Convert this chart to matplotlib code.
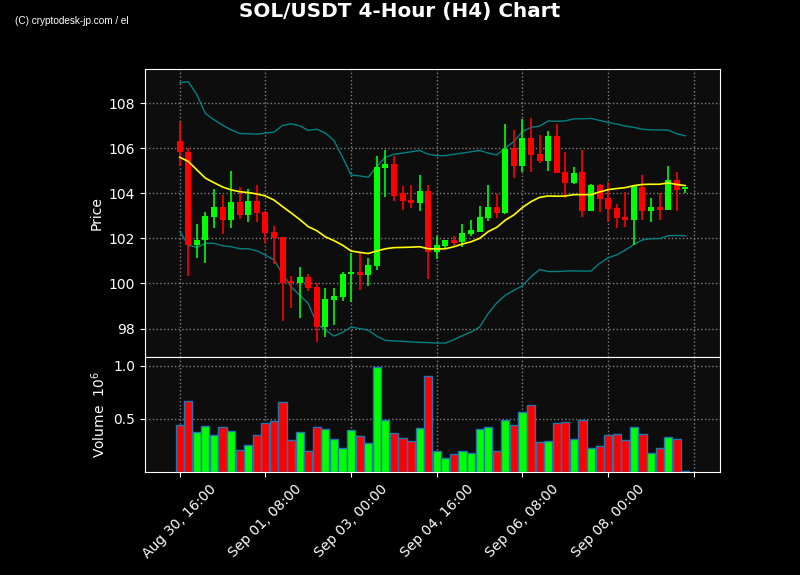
import numpy as np
import pandas as pd
import matplotlib
matplotlib.use("Agg")
import matplotlib.pyplot as plt

# 4-hour candles
dates = pd.date_range("2025-08-30 16:00", periods=60, freq="4h")

opens = [106.30, 105.85, 101.70, 101.93, 102.96, 103.41, 102.81, 103.61, 103.04, 103.66,
         103.17, 102.28, 102.06, 100.10, 100.00, 100.28, 99.84, 98.07, 99.29, 99.41,
         100.43, 100.50, 100.37, 100.79, 105.14, 105.30, 104.00, 103.70, 103.59, 104.10,
         101.41, 101.67, 101.93, 101.85, 102.21, 102.30, 102.92, 103.39, 103.13, 106.00,
         105.23, 106.46, 105.75, 105.45, 106.55, 104.95, 104.47, 104.95, 103.23, 104.37,
         103.79, 103.35, 102.95, 102.83, 104.28, 103.23, 103.39, 103.27, 104.59, 104.21]
closes = [105.81, 101.70, 101.93, 102.99, 103.41, 102.81, 103.61, 103.04, 103.66, 103.13,
          102.24, 102.01, 100.00, 100.00, 100.28, 99.81, 98.07, 99.30, 99.44, 100.41,
          100.50, 100.37, 100.81, 105.17, 105.30, 103.90, 103.67, 103.59, 104.10, 101.41,
          101.70, 101.93, 101.80, 102.24, 102.37, 102.95, 103.39, 103.13, 105.97, 105.19,
          106.46, 105.70, 105.45, 106.55, 104.92, 104.47, 104.90, 103.23, 104.37, 103.76,
          103.32, 102.92, 102.83, 104.33, 103.23, 103.39, 103.27, 104.59, 104.13, 104.28]
highs = [107.16, 106.00, 102.62, 103.16, 104.18, 103.93, 104.98, 104.27, 104.18, 104.36,
         103.20, 102.56, 102.06, 100.33, 100.71, 100.40, 100.00, 99.78, 99.78, 100.52,
         101.36, 101.36, 101.11, 105.64, 105.91, 105.66, 104.31, 104.36, 104.80, 104.36,
         102.10, 101.93, 102.12, 102.64, 102.80, 103.42, 104.36, 103.96, 107.07, 106.80,
         107.29, 107.33, 106.58, 106.77, 107.08, 105.82, 105.16, 105.91, 104.41, 104.41,
         104.52, 103.51, 104.07, 104.33, 104.80, 103.79, 104.00, 105.20, 104.95, 104.28]
lows = [105.23, 100.33, 101.11, 100.89, 102.44, 102.18, 102.44, 102.84, 102.71, 102.73,
        101.79, 100.87, 98.33, 98.93, 98.49, 99.66, 97.39, 97.64, 98.18, 99.23,
        99.20, 99.70, 99.91, 100.62, 103.82, 103.66, 103.24, 103.33, 103.21, 100.18,
        101.07, 101.51, 101.67, 101.60, 102.10, 102.27, 102.76, 102.92, 103.10, 104.67,
        104.96, 104.93, 105.33, 104.99, 104.92, 103.78, 104.40, 102.93, 103.23, 103.16,
        102.71, 102.44, 102.49, 101.69, 102.80, 102.73, 102.81, 103.27, 103.21, 104.03]

# moving average and bollinger bands as drawn
sma = [105.60, 105.41, 105.04, 104.67, 104.47, 104.28, 104.15, 104.07, 104.03, 103.97,
       103.88, 103.70, 103.41, 103.13, 102.84, 102.52, 102.34, 102.07, 101.90, 101.70,
       101.44, 101.38, 101.33, 101.44, 101.54, 101.59, 101.60, 101.61, 101.63, 101.54,
       101.53, 101.54, 101.63, 101.75, 101.85, 102.00, 102.30, 102.49, 102.81, 103.04,
       103.37, 103.63, 103.82, 103.88, 103.87, 103.88, 103.94, 103.94, 103.94, 104.06,
       104.16, 104.21, 104.25, 104.34, 104.39, 104.40, 104.40, 104.46, 104.39, 104.34]
bb_upper = [108.90, 108.95, 108.37, 107.53, 107.26, 107.02, 106.81, 106.65, 106.64, 106.62,
            106.67, 106.71, 107.01, 107.08, 106.99, 106.79, 106.84, 106.67, 106.34, 105.60,
            104.81, 104.77, 104.71, 105.19, 105.60, 105.73, 105.78, 105.84, 105.90, 105.73,
            105.67, 105.67, 105.73, 105.78, 105.84, 105.90, 105.78, 105.70, 106.00, 106.30,
            106.74, 106.92, 106.98, 107.21, 107.19, 107.21, 107.30, 107.30, 107.32, 107.23,
            107.14, 107.07, 106.98, 106.92, 106.84, 106.81, 106.81, 106.80, 106.64, 106.55]
bb_lower = [102.31, 101.70, 101.60, 101.78, 101.78, 101.67, 101.63, 101.54, 101.54, 101.45,
            101.26, 101.04, 100.44, 99.85, 99.48, 99.11, 98.22, 97.93, 97.67, 97.83,
            98.07, 98.00, 97.93, 97.66, 97.48, 97.45, 97.44, 97.41, 97.39, 97.38,
            97.36, 97.36, 97.51, 97.69, 97.85, 98.07, 98.67, 99.14, 99.48, 99.70,
            99.90, 100.30, 100.62, 100.53, 100.53, 100.55, 100.56, 100.55, 100.55, 100.89,
            101.14, 101.27, 101.48, 101.73, 101.93, 101.99, 101.99, 102.12, 102.13, 102.12]

# volume in millions
volumes = [0.444, 0.669, 0.378, 0.434, 0.350, 0.425, 0.388, 0.209, 0.256, 0.350,
           0.463, 0.481, 0.659, 0.303, 0.378, 0.200, 0.425, 0.406, 0.313, 0.228,
           0.397, 0.340, 0.275, 0.988, 0.490, 0.369, 0.322, 0.294, 0.416, 0.903,
           0.200, 0.134, 0.172, 0.200, 0.181, 0.406, 0.425, 0.200, 0.490, 0.444,
           0.566, 0.631, 0.284, 0.294, 0.463, 0.472, 0.313, 0.490, 0.228, 0.247,
           0.350, 0.359, 0.303, 0.425, 0.359, 0.181, 0.228, 0.331, 0.313, 0.006]

o = np.array(opens)
c = np.array(closes)
x = np.arange(len(o))
up = c >= o
colors = np.where(up, "lime", "red")

fig = plt.figure(figsize=(8, 5.75), dpi=100, facecolor="black")
ax = fig.add_axes([0.18125, 0.3791, 0.71875, 0.5009])
axv = fig.add_axes([0.18125, 0.1791, 0.71875, 0.2], sharex=ax)

for a in (ax, axv):
    a.set_facecolor("#0d0d0d")
    for s in a.spines.values():
        s.set_color("white")
    a.tick_params(colors="white", labelsize=10)
    a.grid(True, color="gray", linestyle=":", linewidth=1)
    a.set_axisbelow(True)

# candles
ax.vlines(x, lows, highs, colors=colors, linewidth=1.2, zorder=3)
body = np.maximum(np.abs(c - o), 0.04)
ax.bar(x, body, bottom=np.minimum(o, c), width=0.7, color=colors, zorder=4)

ax.plot(x, sma, color="yellow", linewidth=1.2, zorder=5)
ax.plot(x, bb_upper, color="teal", linewidth=1, zorder=2)
ax.plot(x, bb_lower, color="teal", linewidth=1, zorder=2)

ax.set_ylim(96.74, 109.51)
ax.set_yticks([98, 100, 102, 104, 106, 108])
ax.set_ylabel("Price", color="white", fontsize=10)
ax.tick_params(axis="x", length=0, labelbottom=False)

# volume
axv.bar(x, volumes, width=0.95, color=colors, edgecolor="#1f77b4", linewidth=1, zorder=3)
axv.set_ylim(0, 1.084)
axv.set_yticks([0.5, 1.0])
axv.set_ylabel("Volume  $10^{6}$", color="white", fontsize=10)

ticks = np.arange(0, 61, 10)
labels = [dates[i].strftime("%b %d, %H:%M") if i < len(dates) else "" for i in ticks]
axv.set_xticks(ticks)
axv.set_xticklabels(labels, rotation=45, ha="center")
axv.set_xlim(-4.05, 63.05)

fig.text(0.5, 0.996, "SOL/USDT 4-Hour (H4) Chart", color="white", fontsize=14.4,
         fontweight="bold", ha="center", va="top")
fig.text(0.019, 1 - 21 / 575, "(C) cryptodesk-jp.com / el", color="white", fontsize=7.2,
         family="Liberation Sans", ha="left", va="center")

fig.savefig("out.png", dpi=100, facecolor="black")
